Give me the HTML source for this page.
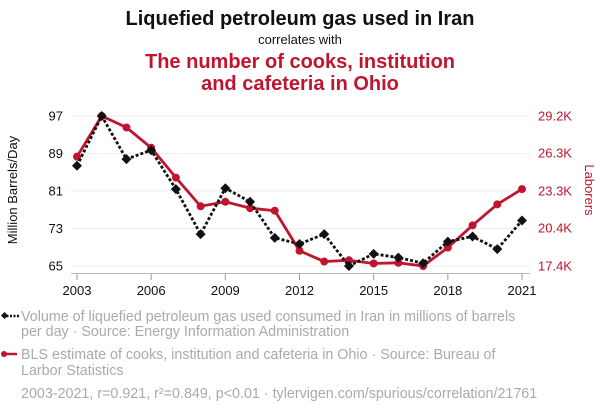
<!DOCTYPE html>
<html><head><meta charset="utf-8"><style>
body{margin:0;width:600px;height:414px;background:#fff;font-family:"Liberation Sans",sans-serif;overflow:hidden}
svg text{font-family:"Liberation Sans",sans-serif}
</style></head><body>
<svg id="c" width="600" height="414">
<text x="300" y="25" text-anchor="middle" font-size="20" font-weight="bold" fill="#111">Liquefied petroleum gas used in Iran</text>
<text x="300" y="44" text-anchor="middle" font-size="13" fill="#111">correlates with</text>
<text x="300" y="68" text-anchor="middle" font-size="20" font-weight="bold" fill="#c0152f">The number of cooks, institution</text>
<text x="300" y="90" text-anchor="middle" font-size="20" font-weight="bold" fill="#c0152f">and cafeteria in Ohio</text>
<text transform="translate(17,190) rotate(-90)" text-anchor="middle" font-size="13" fill="#111">Million Barrels/Day</text>
<text transform="translate(585,190) rotate(90)" text-anchor="middle" font-size="13" fill="#c0152f">Laborers</text>
<g id="plot"></g>
<g>
<line x1="3" y1="316" x2="19" y2="316" stroke="#111" stroke-width="2.5" stroke-dasharray="2,1.5"/>
<rect x="2" y="313" width="5" height="5" transform="rotate(45 4.5 315.5)" fill="#111"/>
<text x="21" y="321" font-size="14.3" fill="#aaa">Volume of liquefied petroleum gas used consumed in Iran in millions of barrels</text>
<text x="21" y="336" font-size="14.3" fill="#aaa">per day · Source: Energy Information Administration</text>
<line x1="3" y1="354" x2="17" y2="354" stroke="#c0152f" stroke-width="2.5"/>
<circle cx="4" cy="354" r="3" fill="#c0152f"/>
<text x="21" y="359" font-size="14.3" fill="#aaa">BLS estimate of cooks, institution and cafeteria in Ohio · Source: Bureau of</text>
<text x="21" y="375" font-size="14.3" fill="#aaa">Larbor Statistics</text>
<text x="21" y="398" font-size="14.3" fill="#aaa">2003-2021, r=0.921, r²=0.849, p&lt;0.01 · tylervigen.com/spurious/correlation/21761</text>
</g>
</svg>
<script>
const years=[2003,2004,2005,2006,2007,2008,2009,2010,2011,2012,2013,2014,2015,2016,2017,2018,2019,2020,2021];
const lpg=[86.4,97,87.8,89.7,81.4,71.8,81.6,78.7,71.0,69.7,71.8,65.0,67.6,66.8,65.6,70.2,71.3,68.6,74.7];
const cooks=[26.0,29.2,28.3,26.7,24.35,22.1,22.45,21.95,21.75,18.6,17.75,17.85,17.6,17.65,17.4,18.85,20.6,22.25,23.45];
const leftTicks=[65,73,81,89,97];
const rightTicks=[17.4,20.4,23.3,26.3,29.2];
const rightLabels=["17.4K","20.4K","23.3K","26.3K","29.2K"];
const xTicks=[2003,2006,2009,2012,2015,2018,2021];
const NS="http://www.w3.org/2000/svg";
const g=document.getElementById('plot');
const x=v=>77+(v-2003)*(522-77)/18;
const yl=v=>266-(v-65)*150/32;
const yr=v=>266-(v-17.4)*150/11.8;
function mk(t,a){const e=document.createElementNS(NS,t);for(const k in a)e.setAttribute(k,a[k]);g.appendChild(e);return e;}
leftTicks.forEach((t,i)=>{
 const gl=mk('line',{x1:71,x2:530,y1:yl(t),y2:yl(t),stroke:'#eee','stroke-width':1});
 
 
 const tl=mk('text',{x:63,y:yl(t)+4.5,'text-anchor':'end','font-size':13,fill:'#111'});tl.textContent=t;
 
 
});
rightTicks.forEach((t,i)=>{
 const tr=mk('text',{x:538,y:yr(t)+4.5,'font-size':13,fill:'#c0152f'});tr.textContent=rightLabels[i];
 
 
});
const ax=mk('line',{x1:71,x2:530,y1:273.5,y2:273.5,stroke:'#bbb','stroke-width':1});


xTicks.forEach(t=>{
 mk('line',{x1:x(t),x2:x(t),y1:274,y2:280,stroke:'#999','stroke-width':1});
 const tx=mk('text',{x:x(t),y:295,'text-anchor':'middle','font-size':13,fill:'#111'});tx.textContent=t;
 
 
});
const rl=mk('polyline',{points:years.map((yy,i)=>x(yy)+','+yr(cooks[i])).join(' '),fill:'none',stroke:'#c0152f','stroke-width':2.8});


years.forEach((yy,i)=>{const c=mk('circle',{cx:x(yy),cy:yr(cooks[i]),r:4,fill:'#c0152f'});
 
 });
const bl=mk('polyline',{points:years.map((yy,i)=>x(yy)+','+yl(lpg[i])).join(' '),fill:'none',stroke:'#111','stroke-width':2.8,'stroke-dasharray':'3,2'});


years.forEach((yy,i)=>{const X=x(yy),Y=yl(lpg[i]);const d=mk('polygon',{points:`${X},${Y-5} ${X+5},${Y} ${X},${Y+5} ${X-5},${Y}`,fill:'#111'});
 
 });
</script>
</body></html>
